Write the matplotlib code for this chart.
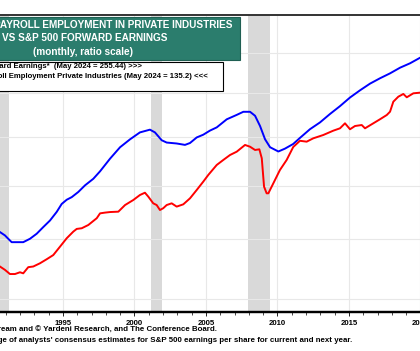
import matplotlib
matplotlib.use("Agg")
import matplotlib.pyplot as plt
from matplotlib.patches import Rectangle

# payroll employment, private industries (millions, left scale, ratio)
emp_years = [1990.59, 1990.94, 1991.17, 1991.41, 1991.76, 1992.22, 1992.69, 1993.16, 1993.62,
             1994.09, 1994.56, 1994.91, 1995.26, 1995.61, 1996.07, 1996.54, 1997.12, 1997.59,
             1998.29, 1998.99, 1999.69, 2000.38, 2001.08, 2001.43, 2001.90, 2002.25, 2002.95,
             2003.53, 2003.88, 2004.35, 2004.81, 2005.28, 2005.75, 2006.45, 2007.15, 2007.61,
             2008.08, 2008.43, 2008.78, 2009.13, 2009.48, 2010.06, 2010.52, 2011.10, 2011.57,
             2012.27, 2012.97, 2013.67, 2014.37, 2015.07, 2015.77, 2016.47, 2017.17, 2017.87,
             2018.57, 2019.27, 2019.97, 2020.10]
emp = [91.3, 90.7, 90.1, 89.5, 89.5, 89.5, 90.1, 91.0, 92.2,
       93.4, 95.0, 96.5, 97.3, 97.8, 98.8, 100.1, 101.4, 102.9,
       105.5, 107.9, 109.6, 111.1, 111.7, 111.1, 109.4, 108.9, 108.7,
       108.4, 108.8, 110.0, 110.6, 111.5, 112.2, 114.0, 115.0, 115.7,
       115.7, 114.8, 112.5, 109.6, 107.9, 107.0, 107.6, 108.6, 109.9,
       111.8, 113.3, 115.2, 117.0, 119.0, 120.7, 122.3, 123.6, 124.8,
       126.2, 127.3, 128.7, 128.9]

# S&P 500 forward earnings (dollars, right scale, ratio)
eps_years = [1990.59, 1990.94, 1991.29, 1991.64, 1991.99, 1992.22, 1992.57, 1992.92, 1993.39,
             1993.86, 1994.32, 1994.79, 1995.26, 1995.72, 1995.96, 1996.31, 1996.77, 1997.36,
             1997.59, 1997.94, 1998.29, 1998.87, 1999.34, 1999.92, 2000.38, 2000.73, 2000.97,
             2001.31, 2001.55, 2001.78, 2002.01, 2002.25, 2002.60, 2002.95, 2003.41, 2003.88,
             2004.35, 2004.81, 2005.16, 2005.75, 2006.21, 2006.68, 2007.15, 2007.73, 2008.08,
             2008.43, 2008.73, 2008.90, 2009.06, 2009.24, 2009.36, 2009.71, 2010.17, 2010.64,
             2011.10, 2011.57, 2012.04, 2012.50, 2013.20, 2013.90, 2014.37, 2014.72, 2015.07,
             2015.42, 2015.89, 2016.12, 2016.70, 2017.17, 2017.64, 2017.87, 2018.10, 2018.45,
             2018.80, 2019.04, 2019.50, 2019.97, 2020.10]
eps = [29.2, 28.2, 27.0, 27.0, 27.5, 27.2, 29.0, 29.2, 30.2,
       31.5, 32.9, 35.9, 39.2, 42.0, 43.2, 43.5, 45.0, 48.3,
       50.8, 51.2, 51.5, 51.7, 55.4, 58.4, 61.5, 63.0, 60.4,
       56.4, 55.4, 52.6, 53.6, 55.4, 56.4, 54.5, 55.8, 59.4,
       64.8, 70.7, 75.8, 84.1, 88.6, 93.3, 96.6, 103.6, 101.7,
       98.3, 99.0, 90.2, 67.1, 62.6, 62.6, 69.5, 79.8, 88.6,
       101.4, 108.2, 107.2, 111.0, 114.9, 120.2, 123.2, 129.8, 122.0,
       126.2, 127.5, 123.2, 129.8, 135.4, 141.5, 146.5, 162.6, 171.3,
       176.2, 170.2, 177.4, 178.6, 178.8]

recessions = [(1990.50, 1991.25), (2001.17, 2001.92), (2007.92, 2009.50)]
year_ticks = [1990, 1995, 2000, 2005, 2010, 2015, 2020]
emp_grid = [80, 90, 100, 110, 120, 130]

title_lines = ["PAYROLL EMPLOYMENT IN PRIVATE INDUSTRIES",
               "VS S&P 500 FORWARD EARNINGS",
               "(monthly, ratio scale)"]
legend_lines = ["S&P 500 Forward Earnings*  (May 2024 = 255.44) >>>",
                "Payroll Employment Private Industries (May 2024 = 135.2) <<<"]
notes = ["Source: LSEG Datastream and \u00a9 Yardeni Research, and The Conference Board.",
         "* Time-weighted average of analysts' consensus estimates for S&P 500 earnings per share for current and next year."]

W, H = 420, 351
FONT = "Liberation Sans"


def fx(px):
    return px / W


def fy(py):
    return (H - py) / H


fig = plt.figure(figsize=(W / 100, H / 100), dpi=100)
fig.patch.set_facecolor("white")

# axes run off both sides of the canvas (cropped chart)
x0, x1 = 1989.0, 2025.0
left_px = 63 + (x0 - 1995) * 14.3
right_px = 63 + (x1 - 1995) * 14.3
ax = fig.add_axes([fx(left_px), fy(312), (right_px - left_px) / W, (312 - 15) / H])
ax.set_xlim(x0, x1)
ax.set_yscale("log")
ax.set_ylim(78, 140)

for a, b in recessions:
    ax.axvspan(a, b, color="#d9d9d9", lw=0, zorder=0.5)

ax.set_yticks(emp_grid)
ax.set_yticks([], minor=True)
ax.set_xticks(year_ticks)
ax.set_xticks(range(1989, 2026), minor=True)
ax.grid(True, which="major", color="#e8e8e8", lw=0.8, zorder=0)
ax.set_axisbelow(True)
ax.tick_params(axis="y", which="both", left=False, labelleft=False)
ax.tick_params(axis="x", which="major", length=3, width=0.6, pad=2.5, direction="out")
ax.tick_params(axis="x", which="minor", length=2, width=0.5, direction="out")
for lab in ax.get_xticklabels():
    lab.set_fontfamily(FONT)
    lab.set_fontweight("bold")
    lab.set_fontsize(5.6)

ax.plot(emp_years, emp, color="#0000ff", lw=1.4, zorder=3)

ax2 = ax.twinx()
ax2.set_yscale("log")
ax2.set_ylim(18.18, 401.1)
ax2.tick_params(axis="y", which="both", right=False, labelright=False)
ax2.plot(eps_years, eps, color="#ff0000", lw=1.4, zorder=3)

for a in (ax, ax2):
    a.spines["left"].set_visible(False)
    a.spines["right"].set_visible(False)
    a.spines["top"].set_color("#333333")
    a.spines["top"].set_linewidth(1.2)
    a.spines["bottom"].set_color("black")
    a.spines["bottom"].set_linewidth(1.6)

# title box
fig.add_artist(Rectangle((fx(-80), fy(60)), 320 / W, 43 / H, transform=fig.transFigure,
                         facecolor="#2b7d6d", edgecolor="#1f5f52", lw=0.8, zorder=5))
fig.text(fx(232), fy(25), title_lines[0], ha="right", va="center", color="white",
         fontsize=7.2, fontweight="bold", family=FONT, zorder=6)
fig.text(fx(85), fy(38), title_lines[1], ha="center", va="center", color="white",
         fontsize=7.2, fontweight="bold", family=FONT, zorder=6)
fig.text(fx(83), fy(52), title_lines[2], ha="center", va="center", color="white",
         fontsize=7.2, fontweight="bold", family=FONT, zorder=6)

# legend box
fig.add_artist(Rectangle((fx(-80), fy(91)), 303 / W, 29 / H, transform=fig.transFigure,
                         facecolor="white", edgecolor="black", lw=0.8, zorder=5))
fig.text(fx(142), fy(67), legend_lines[0], ha="right", va="center", color="black",
         fontsize=5.6, fontweight="bold", family=FONT, zorder=6)
fig.text(fx(208), fy(76), legend_lines[1], ha="right", va="center", color="black",
         fontsize=5.6, fontweight="bold", family=FONT, zorder=6)

# notes
fig.text(fx(217), fy(330), notes[0], ha="right", va="center", color="black",
         fontsize=5.65, fontweight="bold", family=FONT)
fig.text(fx(352), fy(340), notes[1], ha="right", va="center", color="black",
         fontsize=5.65, fontweight="bold", family=FONT)

fig.savefig("out.png", dpi=100, facecolor="white")
